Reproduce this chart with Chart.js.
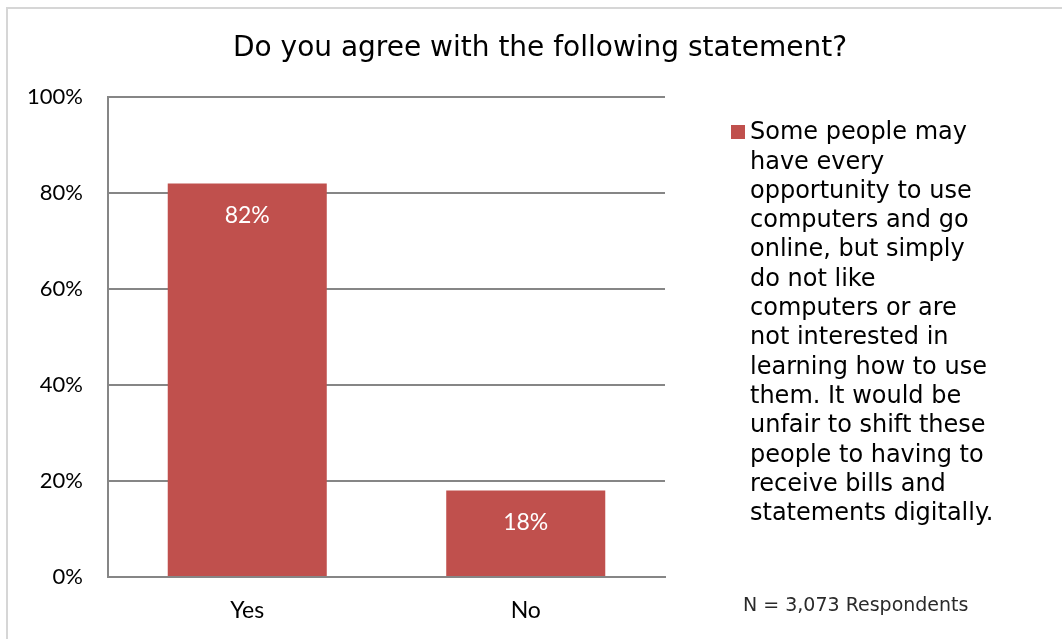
<!DOCTYPE html>
<html>
<head>
<meta charset="utf-8">
<script src="https://cdn.jsdelivr.net/npm/chart.js@4/dist/chart.umd.min.js"></script>
<style>
	html, body { margin: 0; padding: 0; background: #fff; }
	#wrap { position: relative; width: 1062px; height: 639px; overflow: hidden; }
	#frame { position: absolute; left: 6px; top: 7px; width: 1100px; height: 700px; border: 2px solid #d6d6d6; box-sizing: border-box; }
	#js-canvas { position: absolute; left: 0; top: 0; }
</style>
</head>
<body>
<div id="wrap">
	<div id="frame"></div>
	<canvas id="js-canvas" width="1062" height="639"></canvas>
</div>
<script>
const canvas = document.getElementById('js-canvas')

// Chart data
const categories = ['Yes', 'No']
const values = [82, 18]
const yTickStep = 20
const yMax = 100
const titleText = 'Do you agree with the following statement?'
const seriesLabel = 'Some people may have every opportunity to use computers and go online, but simply do not like computers or are not interested in learning how to use them. It would be unfair to shift these people to having to receive bills and statements digitally.'
// Legend line breaks as in the original
const legendLines = [
	'Some people may',
	'have every',
	'opportunity to use',
	'computers and go',
	'online, but simply',
	'do not like',
	'computers or are',
	'not interested in',
	'learning how to use',
	'them. It would be',
	'unfair to shift these',
	'people to having to',
	'receive bills and',
	'statements digitally.'
]
const noteText = 'N = 3,073 Respondents'

const barColor = '#c0504d'
const gridColor = '#868686'

// Title, legend, note and value labels
const extras = {
	id: 'extras',
	afterDatasetsDraw(chart) {
		const ctx = chart.ctx
		ctx.save()
		// value labels inside bars
		const meta = chart.getDatasetMeta(0)
		ctx.fillStyle = '#ffffff'
		ctx.font = '23px Lato, "Liberation Sans", sans-serif'
		ctx.textAlign = 'center'
		ctx.textBaseline = 'middle'
		meta.data.forEach((bar, i) => {
			ctx.fillText(values[i] + '%', bar.x, bar.y + 32)
		})
		// title
		ctx.fillStyle = '#000000'
		ctx.font = '28px "DejaVu Sans", sans-serif'
		ctx.fillText(titleText, 540, 49)
		// legend
		ctx.fillStyle = chart.data.datasets[0].backgroundColor
		ctx.fillRect(731, 125, 14, 14)
		ctx.fillStyle = '#000000'
		ctx.textAlign = 'left'
		ctx.font = '24px "DejaVu Sans", sans-serif'
		legendLines.forEach((line, i) => {
			ctx.fillText(line, 750, 133 + i * 29.3)
		})
		// note
		ctx.fillStyle = '#2a2a2a'
		ctx.font = '19px "DejaVu Sans", sans-serif'
		ctx.fillText(noteText, 743, 606)
		ctx.restore()
	}
}

const chart = new Chart(canvas, {
	type: 'bar',
	data: {
		labels: categories,
		datasets: [
			{
				label: seriesLabel,
				data: values,
				backgroundColor: barColor,
				borderWidth: 0,
				categoryPercentage: 1,
				barPercentage: 0.571
			}
		]
	},
	options: {
		responsive: false,
		animation: false,
		layout: {
			padding: { top: 97, right: 397, bottom: 0, left: 0 }
		},
		plugins: {
			legend: { display: false },
			title: { display: false },
			tooltip: { enabled: false }
		},
		scales: {
			x: {
				grid: { display: false, drawTicks: false },
				border: { display: true, color: gridColor, width: 2 },
				ticks: {
					color: '#000000',
					padding: 20,
					font: { family: 'Lato, "Liberation Sans", sans-serif', size: 23 }
				},
				afterFit(scale) { scale.height = 62 }
			},
			y: {
				min: 0,
				max: yMax,
				grid: { color: gridColor, lineWidth: 2, drawTicks: false },
				border: { display: true, color: gridColor, width: 2 },
				ticks: {
					stepSize: yTickStep,
					color: '#000000',
					padding: 25,
					font: { family: 'Lato, "Liberation Sans", sans-serif', size: 22 },
					callback: (v) => v + '%'
				},
				afterFit(scale) { scale.width = 108 }
			}
		}
	},
	plugins: [extras]
})
</script>
</body>
</html>
